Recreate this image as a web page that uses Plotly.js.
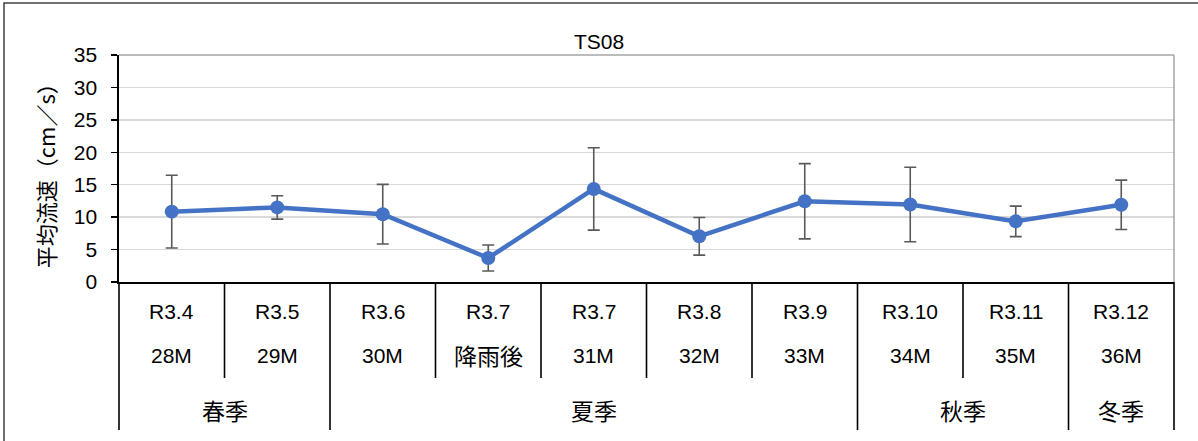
<!DOCTYPE html>
<html>
<head>
<meta charset="utf-8">
<script src="https://cdn.plot.ly/plotly-3.0.1.min.js"></script>
<style>html,body{margin:0;padding:0;background:#fff;}#chart{width:1198px;height:441px;}</style>
</head>
<body>
<div id="chart"></div>
<script>
// ---- data ----
const months = ["R3.4","R3.5","R3.6","R3.7","R3.7","R3.8","R3.9","R3.10","R3.11","R3.12"];
const surveys = ["28M","29M","30M","降雨後","31M","32M","33M","34M","35M","36M"];
const meanSpeed = [10.85, 11.5, 10.45, 3.7, 14.35, 7.05, 12.45, 11.95, 9.35, 11.9];
const sdSpeed = [5.6, 1.8, 4.6, 2.0, 6.35, 2.9, 5.8, 5.75, 2.35, 3.8];
const seasonNames = ["春季","夏季","秋季","冬季"];
const seasonCounts = [2, 5, 2, 1];
const yTicks = [0,5,10,15,20,25,30,35];
const chartTitle = "TS08";
const yTitle = "平均流速（cm／s）";

// ---- build ----
const cats = months.map((m,i)=>m+"|"+surveys[i]);
const n = cats.length;
const FONT = "Liberation Sans, Arial, Noto Sans CJK JP, sans-serif";
const JFONT = "Noto Sans CJK JP, Liberation Sans, sans-serif";

const trace = {
  type: "scatter", mode: "lines+markers",
  x: cats, y: meanSpeed,
  line: {color: "#4472C4", width: 4.5},
  marker: {color: "#4472C4", size: 14},
  error_y: {type: "data", array: sdSpeed, visible: true, color: "#595959", thickness: 1.6, width: 6},
  hoverinfo: "x+y"
};

const rowY1 = -0.132, rowY2 = -0.322, rowY3 = -0.564;
const shortBottom = -0.423, longBottom = -0.652;

const shapes = [];
const annotations = [];

// top and right gray frame of plot area
shapes.push({type:"line", xref:"paper", yref:"paper", x0:0, x1:1, y0:1, y1:1, line:{color:"#a6a6a6", width:1.5}});
shapes.push({type:"line", xref:"paper", yref:"paper", x0:1, x1:1, y0:0, y1:1, line:{color:"#a6a6a6", width:1.5}});

// season boundaries (long lines) and inner boundaries (short lines)
const seasonStart = [];
let acc = 0;
seasonCounts.forEach(c=>{ seasonStart.push(acc); acc += c; });
const longIdx = new Set(seasonStart.concat([n]));
for (let b = 0; b <= n; b++) {
  const isLong = longIdx.has(b);
  shapes.push({type:"line", xref:"paper", yref:"paper",
    x0: b/n, x1: b/n, y0: 0, y1: isLong ? longBottom : shortBottom,
    line:{color:"#000000", width:1.6}});
}
// row labels
for (let i = 0; i < n; i++) {
  annotations.push({xref:"x", yref:"paper", x:i, y:rowY1, text:months[i], showarrow:false,
    font:{family:FONT, size:21, color:"#000"}, yanchor:"middle"});
  const isJ = /[^\x00-\x7F]/.test(surveys[i]);
  annotations.push({xref:"x", yref:"paper", x:i, y:rowY2, text:surveys[i], showarrow:false,
    font:{family:isJ ? JFONT : FONT, size:isJ ? 23 : 21, color:"#000"}, yanchor:"middle"});
}
seasonNames.forEach((s,k)=>{
  const c = seasonStart[k] + (seasonCounts[k]-1)/2;
  annotations.push({xref:"x", yref:"paper", x:c, y:rowY3, text:s, showarrow:false,
    font:{family:JFONT, size:23, color:"#000"}, yanchor:"middle"});
});
// y-axis title
annotations.push({xref:"paper", yref:"paper", x:-0.0701, y:0.493, text:yTitle, textangle:-90,
  showarrow:false, font:{family:JFONT, size:22, color:"#000"}, xanchor:"center", yanchor:"middle"});

// outer chart border (top/left visible)
shapes.push({type:"rect", xref:"paper", yref:"paper", x0:-0.109, x1:1.05, y0:-0.8, y1:1.229,
  line:{color:"#404040", width:1.5}, fillcolor:"rgba(0,0,0,0)", layer:"below"});

const layout = {
  width: 1198, height: 441,
  margin: {l:119, r:24, t:55, b:159, pad:0},
  paper_bgcolor: "#fff", plot_bgcolor: "#fff",
  showlegend: false,
  title: {text: chartTitle, x:0.5, xref:"container", y:0.905, yref:"container", xanchor:"center", yanchor:"middle",
    font:{family:FONT, size:21, color:"#000"}},
  xaxis: {type:"category", range:[-0.5, n-0.5], showticklabels:false, ticks:"", showgrid:false,
    showline:true, linecolor:"#000", linewidth:1.6, zeroline:false, fixedrange:true},
  yaxis: {range:[0,35], tickvals:yTicks, ticktext:yTicks.map(String), ticks:"outside", ticklen:6,
    tickcolor:"#000", tickwidth:1.5, showline:true, linecolor:"#000", linewidth:1.6,
    showgrid:true, gridcolor:"#d9d9d9", gridwidth:1.5, zeroline:false,
    ticklabelstandoff: 10,
    tickfont:{family:FONT, size:21, color:"#000"}, fixedrange:true},
  shapes: shapes,
  annotations: annotations
};

Plotly.newPlot("chart", [trace], layout, {displayModeBar:false, staticPlot:true});
</script>
</body>
</html>
